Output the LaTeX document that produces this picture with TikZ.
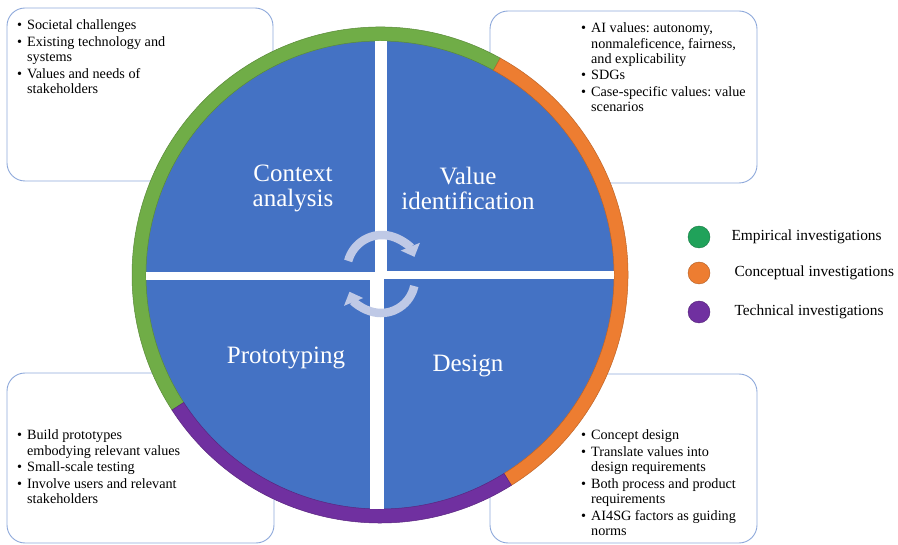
\documentclass[tikz,border=0pt]{standalone}
\usepackage{fontspec}
\setmainfont{Liberation Serif}
\usetikzlibrary{arrows.meta}
\definecolor{ringgreen}{HTML}{70AD47}
\definecolor{ringorange}{HTML}{ED7D31}
\definecolor{ringpurple}{HTML}{7030A0}
\definecolor{dotgreen}{HTML}{20A25A}
\definecolor{discblue}{HTML}{4472C4}
\definecolor{boxline}{HTML}{8EA9DB}
\definecolor{cyclearrow}{HTML}{BFC9E6}
\newcommand{\bitem}{\textbullet &}

\begin{document}
\frenchspacing
\begin{tikzpicture}[x = 1pt, y = 1pt, anno/.style = {line width = 8.5pt, cyclearrow, -{Triangle[length = 11pt, width = 20pt]}},
    dot/.style = {circle, draw = #1!75!black, fill = #1, minimum size = 22pt, inner sep = 0pt}]
    \useasboundingbox (0,0) rectangle (898,-545);
    \tikzstyle{card}=[draw = boxline, line width = 0.9pt, rounded corners = 18pt, fill = white]
    \tikzstyle{notes}=[anchor = north west, inner sep = 0pt, align = left, font = \fontsize{14.2}{15.2}\selectfont]
    \tikzstyle{phase}=[text = white, align = center, font = \fontsize{25}{25}\selectfont]
    \tikzstyle{legend}=[anchor = west, font = \fontsize{15.4}{16}\selectfont]

    % note cards behind the wheel
    \draw [card] (7,-8) rectangle (273,-181);
    \draw [card] (490,-11) rectangle (757,-183);
    \draw [card] (7,-373) rectangle (274,-543);
    \draw [card] (490,-374) rectangle (757,-543);

    \node[notes] (ctxnotes) at (17,-19) {\begin{tabular}{@{}l@{\hspace{5pt}}l@{}}
        \bitem Societal challenges\\[1.5pt]
        \bitem Existing technology and\\ & systems\\[1.5pt]
        \bitem Values and needs of\\ & stakeholders
    \end{tabular}};
    \node[notes] (valnotes) at (581,-22) {\begin{tabular}{@{}l@{\hspace{5pt}}l@{}}
        \bitem AI values: autonomy,\\ & nonmaleficence, fairness,\\ & and explicability\\[1.5pt]
        \bitem SDGs\\[1.5pt]
        \bitem Case-specific values: value\\ & scenarios
    \end{tabular}};
    \node[notes] (protonotes) at (17,-429) {\begin{tabular}{@{}l@{\hspace{5pt}}l@{}}
        \bitem Build prototypes\\ & embodying relevant values\\[1.5pt]
        \bitem Small-scale testing\\[1.5pt]
        \bitem Involve users and relevant\\ & stakeholders
    \end{tabular}};
    \node[notes] (desnotes) at (581,-429) {\begin{tabular}{@{}l@{\hspace{5pt}}l@{}}
        \bitem Concept design\\[1.5pt]
        \bitem Translate values into\\ & design requirements\\[1.5pt]
        \bitem Both process and product\\ & requirements\\[1.5pt]
        \bitem AI4SG factors as guiding\\ & norms
    \end{tabular}};

    % the wheel
    \begin{scope}[shift = {(380,-275)}]
    \fill [discblue] (0,0) circle (241);
    \filldraw [fill = ringgreen, draw = ringgreen!80!black, line width = 0.5pt] (61:248) arc (61:213:248) -- (213:234) arc (213:61:234) -- cycle;
    \filldraw [fill = ringorange, draw = ringorange!80!black, line width = 0.5pt] (-58:248) arc (-58:61:248) -- (61:234) arc (61:-58:234) -- cycle;
    \filldraw [fill = ringpurple, draw = ringpurple!80!black, line width = 0.5pt] (213:248) arc (213:302:248) -- (302:234) arc (302:213:234) -- cycle;
    \begin{scope}
    \clip (0,0) circle (234);
    \fill [white] (-5,240) rectangle (7,0);
    \fill [white] (-10,0) rectangle (4,-240);
    \fill [white] (-240,3) rectangle (0,-5);
    \fill [white] (0,4) rectangle (240,-4);
    \end{scope}
    \draw [anno] (2,5) ++(165:35) arc (165:22:35);
    \draw [anno] (1,-4) ++(-12:34) arc (-12:-158:34);
    \end{scope}

    \node[phase] (ctx) at (293,-188) {Context\\analysis};
    \node[phase] (valid) at (468,-188) {Value\\identification};
    \node[phase] (proto) at (286,-358) {Prototyping};
    \node[phase] (design) at (468,-366) {Design};

    % legend
    \node[dot = dotgreen] (emp) at (699,-237) {};
    \node[dot = ringorange] (con) at (699,-273) {};
    \node[dot = ringpurple] (tec) at (699,-312) {};
    \node[legend] (empl) at (728,-237) {Empirical investigations};
    \node[legend] (conl) at (731,-273) {Conceptual investigations};
    \node[legend] (tecl) at (731,-312) {Technical investigations};
\end{tikzpicture}
\end{document}
